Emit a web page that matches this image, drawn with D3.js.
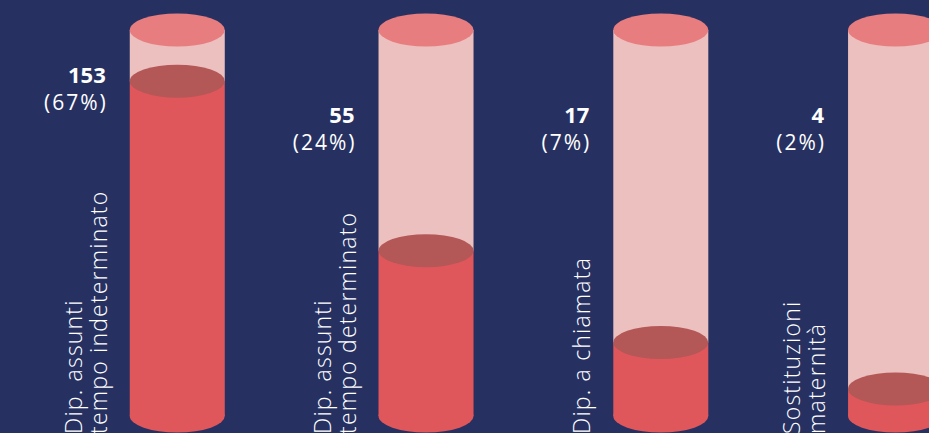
<!DOCTYPE html>
<html>
<head>
<meta charset="utf-8">
<script src="https://cdn.jsdelivr.net/npm/d3@7"></script>
<style>
  body { margin: 0; background: #263162; overflow: hidden; }
  text { font-family: "Open Sans", sans-serif; fill: #fff; }
</style>
</head>
<body>
<div id="chart"></div>
<script>
// data
var categories = [
  ["Dip. assunti", "tempo indeterminato"],
  ["Dip. assunti", "tempo determinato"],
  ["Dip. a chiamata"],
  ["Sostituzioni", "maternità"]
];
var values = [153, 55, 17, 4];
var percents = ["67%", "24%", "7%", "2%"];

var width = 929, height = 433;
var cylW = 95, ry = 16.5;
var labelGap = 24, itemGap = 66;

var svg = d3.select("#chart").append("svg")
  .attr("width", width).attr("height", height);

svg.append("rect").attr("width", width).attr("height", height).attr("fill", "#263162");

// fill level
var y = d3.scalePow().exponent(0.69).domain([0, 188]).range([416, 30]);
var yTop = y.range()[1], yBase = y.range()[0];

var groups = svg.selectAll("g.item").data(values).enter().append("g").attr("class", "item");

// value + percent labels first, so we can measure them
var valTxt = groups.append("text")
  .attr("text-anchor", "end")
  .style("font-weight", 700).style("font-size", "22px")
  .text(function(d){ return d; });
var pctTxt = groups.append("text")
  .attr("text-anchor", "end")
  .style("font-weight", 400).style("font-size", "21px")
  .style("letter-spacing", "2px")
  .text(function(d, i){ return "(" + percents[i] + ")"; });

// lay items out like a row: label block, gap, cylinder, gap
var lefts = [], x = 42;
pctTxt.each(function(d, i){
  var w = Math.max(this.getComputedTextLength(), valTxt.nodes()[i].getComputedTextLength());
  lefts.push(x + w + labelGap);
  x = x + w + labelGap + cylW + itemGap;
});

groups.each(function(d, i){
  var g = d3.select(this);
  var cx = lefts[i] + cylW / 2;
  var fy = y(d);

  g.append("ellipse").attr("cx", cx).attr("cy", yBase).attr("rx", cylW / 2).attr("ry", ry).attr("fill", "#e0575b");
  g.append("rect").attr("x", lefts[i]).attr("y", yTop).attr("width", cylW).attr("height", fy - yTop).attr("fill", "#edc0c0");
  g.append("rect").attr("x", lefts[i]).attr("y", fy).attr("width", cylW).attr("height", yBase - fy).attr("fill", "#e0575b");
  g.append("ellipse").attr("cx", cx).attr("cy", fy).attr("rx", cylW / 2).attr("ry", ry).attr("fill", "#b35757");
  g.append("ellipse").attr("cx", cx).attr("cy", yTop).attr("rx", cylW / 2).attr("ry", ry).attr("fill", "#e87d7f");

  var ly = Math.min(fy, 121) + 2;
  var lx = lefts[i] - labelGap;
  valTxt.filter(function(dd, j){ return j === i; }).attr("x", lx).attr("y", ly).raise();
  pctTxt.filter(function(dd, j){ return j === i; }).attr("x", lx + 2).attr("y", ly + 27).raise();

  // rotated category name
  var lines = categories[i];
  var cat = g.append("text")
    .attr("transform", "translate(" + (lx + 1) + "," + 434 + ") rotate(-90)")
    .style("font-weight", 300).style("font-size", "23px")
    .style("letter-spacing", "1.2px");
  lines.forEach(function(t, k){
    cat.append("tspan").attr("x", 0).attr("y", -(lines.length - 1 - k) * 25).text(t);
  });
});
</script>
</body>
</html>
